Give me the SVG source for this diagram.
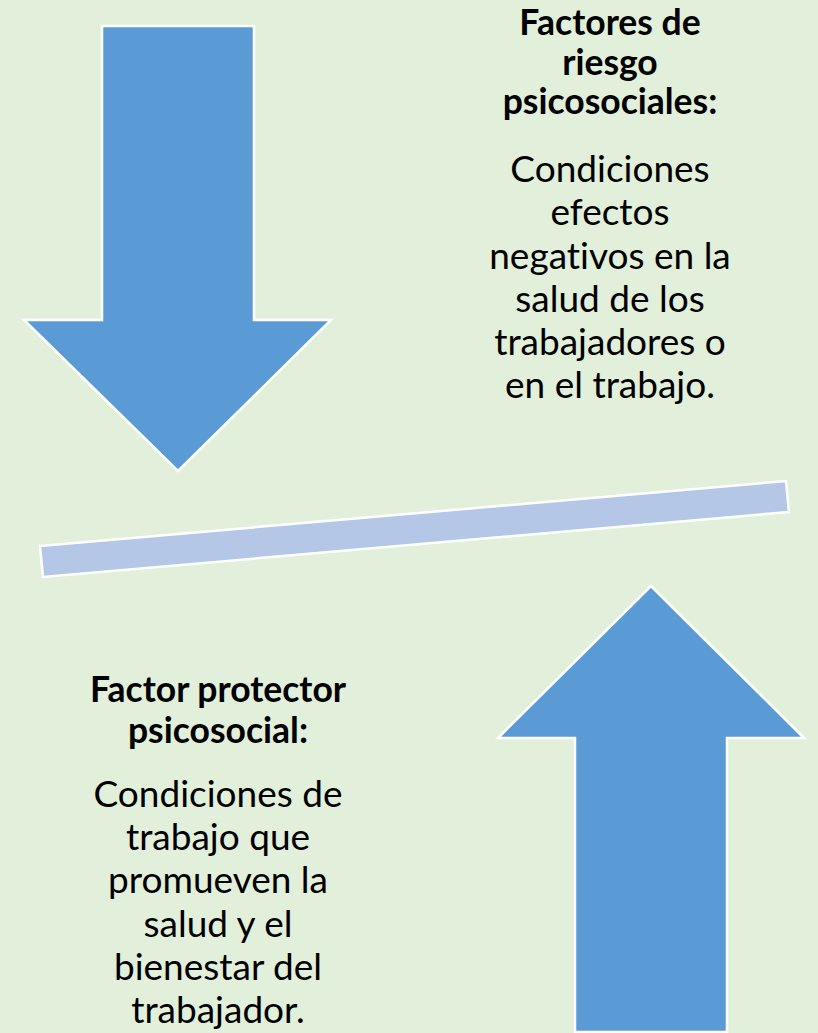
<svg xmlns="http://www.w3.org/2000/svg" width="818" height="1033" viewBox="0 0 818 1033">
<style>
.bg{fill:#E2EFDA}
.arrow{fill:#5B9BD5;stroke:#FFFFFF;stroke-width:2.5;stroke-linejoin:miter}
.bar{fill:#B4C7E7;stroke:#FFFFFF;stroke-width:2.5}
.h{font-family:Lato,"Open Sans",sans-serif;font-weight:bold;font-size:35.5px;fill:#000;text-anchor:middle;font-variant-ligatures:none}
.t{font-family:Lato,"Open Sans",sans-serif;font-size:37px;fill:#000;text-anchor:middle;font-variant-ligatures:none}
</style>
<rect class="bg" x="0" y="0" width="818" height="1033"/>
<g id="down-arrow">
<polygon class="arrow" points="102,26 254,26 254,320 331,320 178,471 24,320 102,320"/>
</g>
<g id="balance-bar">
<polygon class="bar" points="40,546 786,481 789,512 43,577"/>
</g>
<g id="up-arrow">
<polygon class="arrow" points="651,586 804,738 727,738 727,1032 575,1032 575,738 498,738"/>
</g>
<g id="risk-text">
<text class="h" x="610" y="35">Factores de</text>
<text class="h" x="610" y="75">riesgo</text>
<text class="h" x="610" y="114">psicosociales:</text>
<text class="t" x="610" y="182">Condiciones</text>
<text class="t" x="610" y="225">efectos</text>
<text class="t" x="610" y="269">negativos en la</text>
<text class="t" x="610" y="312">salud de los</text>
<text class="t" x="610" y="355">trabajadores o</text>
<text class="t" x="610" y="398">en el trabajo.</text>
</g>
<g id="protector-text">
<text class="h" x="218" y="702">Factor protector</text>
<text class="h" x="218" y="743">psicosocial:</text>
<text class="t" x="218" y="807">Condiciones de</text>
<text class="t" x="218" y="850">trabajo que</text>
<text class="t" x="218" y="893">promueven la</text>
<text class="t" x="218" y="937">salud y el</text>
<text class="t" x="218" y="980">bienestar del</text>
<text class="t" x="218" y="1023">trabajador.</text>
</g>
<g id="connectors"></g>
</svg>
